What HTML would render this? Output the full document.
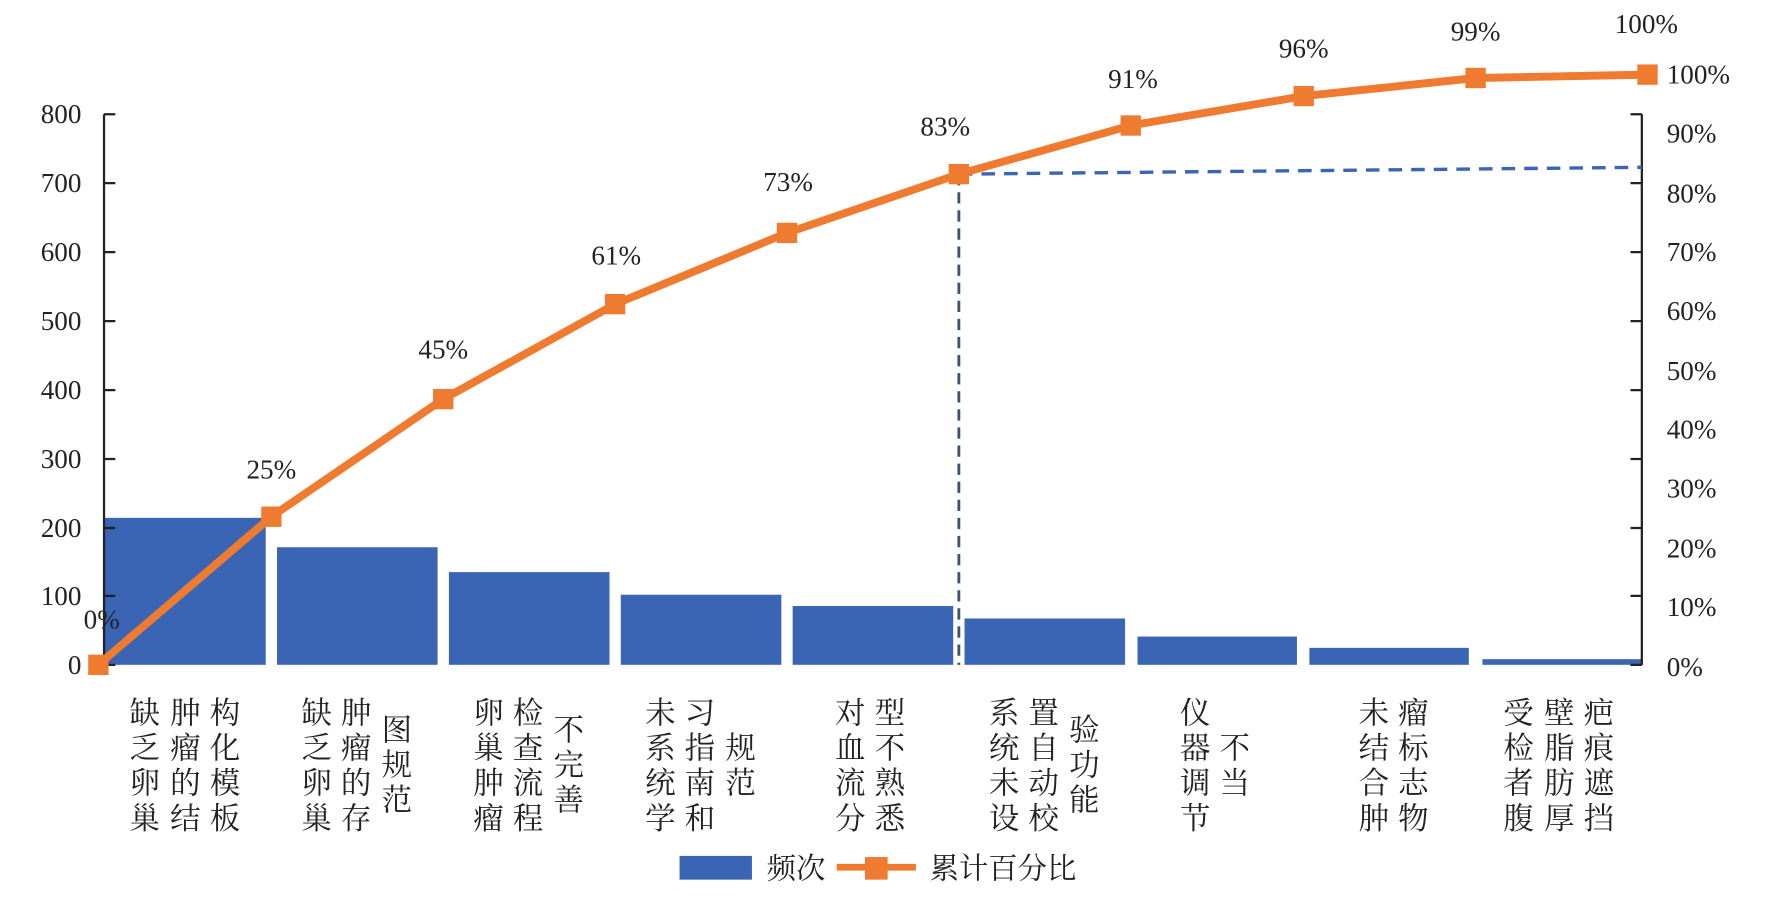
<!DOCTYPE html>
<html><head><meta charset="utf-8"><style>
html,body{margin:0;padding:0;background:#fff;}
svg{display:block;}
text{font-family:"Liberation Serif","Noto Serif CJK SC","Noto Sans CJK SC",serif;fill:#222;}
.t{font-size:24px;}
.c{font-size:27px;text-anchor:middle;}
</style></head><body>
<svg width="1773" height="900" viewBox="0 0 1568 796" preserveAspectRatio="none" xmlns="http://www.w3.org/2000/svg">
<rect width="1568" height="796" fill="#fff"/>
<g fill="#3a65b5">
<rect x="92" y="458" width="143" height="130"/>
<rect x="245" y="484" width="142" height="104"/>
<rect x="397" y="506" width="142" height="82"/>
<rect x="549" y="526" width="142" height="62"/>
<rect x="701" y="536" width="142" height="52"/>
<rect x="853" y="547" width="142" height="41"/>
<rect x="1006" y="563" width="141" height="25"/>
<rect x="1158" y="573" width="141" height="15"/>
<rect x="1311" y="583" width="141" height="5"/>
</g>
<g stroke="#222" stroke-width="2" fill="none">
<path d="M92 101V588"/>
<path d="M92 101h10M92 162h10M92 223h10M92 284h10M92 345h10M92 406h10M92 467h10M92 527h10M92 588h10"/>
<path d="M1452 101V588"/>
<path d="M1452 101h-10M1452 162h-10M1452 223h-10M1452 284h-10M1452 345h-10M1452 406h-10M1452 467h-10M1452 527h-10M1452 588h-10"/>
</g>
<path d="M848 154V588" stroke="#3c5270" stroke-width="2.5" stroke-dasharray="10,6" fill="none"/>
<path d="M848 154L1452 148" stroke="#3a65b5" stroke-width="3" stroke-dasharray="12,8" fill="none"/>
<polyline points="87,588 240,457 392,353 544,269 696,206 848,154 1000,111 1153,85 1305,69 1457,66" fill="none" stroke="#ef7b30" stroke-width="7"/>
<g fill="#ef7b30">
<rect x="78" y="579" width="18" height="18"/><rect x="231" y="448" width="18" height="18"/><rect x="383" y="344" width="18" height="18"/><rect x="535" y="260" width="18" height="18"/><rect x="687" y="197" width="18" height="18"/><rect x="839" y="145" width="18" height="18"/><rect x="991" y="102" width="18" height="18"/><rect x="1144" y="76" width="18" height="18"/><rect x="1296" y="60" width="18" height="18"/><rect x="1448" y="57" width="18" height="18"/>
</g>
<g class="t" text-anchor="middle">
<text x="90" y="556">0%</text><text x="240" y="423">25%</text><text x="392" y="317">45%</text><text x="545" y="234">61%</text><text x="697" y="169">73%</text><text x="836" y="120">83%</text><text x="1002" y="78">91%</text><text x="1153" y="51">96%</text><text x="1305" y="36">99%</text><text x="1456" y="29">100%</text>
</g>
<g class="t" text-anchor="end">
<text x="72" y="109">800</text><text x="72" y="170">700</text><text x="72" y="231">600</text><text x="72" y="292">500</text><text x="72" y="353">400</text><text x="72" y="414">300</text><text x="72" y="475">200</text><text x="72" y="535">100</text><text x="72" y="596">0</text>
</g>
<g class="t">
<text x="1474" y="74">100%</text><text x="1474" y="126">90%</text><text x="1474" y="179">80%</text><text x="1474" y="231">70%</text><text x="1474" y="283">60%</text><text x="1474" y="336">50%</text><text x="1474" y="388">40%</text><text x="1474" y="440">30%</text><text x="1474" y="493">20%</text><text x="1474" y="545">10%</text><text x="1474" y="598">0%</text>
</g>
<g class="c">
<text x="128" y="640">缺</text><text x="128" y="671">乏</text><text x="128" y="702">卵</text><text x="128" y="733">巢</text>
<text x="164" y="640">肿</text><text x="164" y="671">瘤</text><text x="164" y="702">的</text><text x="164" y="733">结</text>
<text x="199" y="640">构</text><text x="199" y="671">化</text><text x="199" y="702">模</text><text x="199" y="733">板</text>
<text x="280" y="640">缺</text><text x="280" y="671">乏</text><text x="280" y="702">卵</text><text x="280" y="733">巢</text>
<text x="315" y="640">肿</text><text x="315" y="671">瘤</text><text x="315" y="702">的</text><text x="315" y="733">存</text>
<text x="351" y="655">图</text><text x="351" y="686">规</text><text x="351" y="717">范</text>
<text x="432" y="640">卵</text><text x="432" y="671">巢</text><text x="432" y="702">肿</text><text x="432" y="733">瘤</text>
<text x="467" y="640">检</text><text x="467" y="671">查</text><text x="467" y="702">流</text><text x="467" y="733">程</text>
<text x="503" y="655">不</text><text x="503" y="686">完</text><text x="503" y="717">善</text>
<text x="584" y="640">未</text><text x="584" y="671">系</text><text x="584" y="702">统</text><text x="584" y="733">学</text>
<text x="619" y="640">习</text><text x="619" y="671">指</text><text x="619" y="702">南</text><text x="619" y="733">和</text>
<text x="655" y="671">规</text><text x="655" y="702">范</text>
<text x="752" y="640">对</text><text x="752" y="671">血</text><text x="752" y="702">流</text><text x="752" y="733">分</text>
<text x="787" y="640">型</text><text x="787" y="671">不</text><text x="787" y="702">熟</text><text x="787" y="733">悉</text>
<text x="888" y="640">系</text><text x="888" y="671">统</text><text x="888" y="702">未</text><text x="888" y="733">设</text>
<text x="923" y="640">置</text><text x="923" y="671">自</text><text x="923" y="702">动</text><text x="923" y="733">校</text>
<text x="959" y="655">验</text><text x="959" y="686">功</text><text x="959" y="717">能</text>
<text x="1057" y="640">仪</text><text x="1057" y="671">器</text><text x="1057" y="702">调</text><text x="1057" y="733">节</text>
<text x="1092" y="671">不</text><text x="1092" y="702">当</text>
<text x="1215" y="640">未</text><text x="1215" y="671">结</text><text x="1215" y="702">合</text><text x="1215" y="733">肿</text>
<text x="1250" y="640">瘤</text><text x="1250" y="671">标</text><text x="1250" y="702">志</text><text x="1250" y="733">物</text>
<text x="1343" y="640">受</text><text x="1343" y="671">检</text><text x="1343" y="702">者</text><text x="1343" y="733">腹</text>
<text x="1379" y="640">壁</text><text x="1379" y="671">脂</text><text x="1379" y="702">肪</text><text x="1379" y="733">厚</text>
<text x="1414" y="640">疤</text><text x="1414" y="671">痕</text><text x="1414" y="702">遮</text><text x="1414" y="733">挡</text>
</g>
<rect x="601" y="757" width="64" height="21" fill="#3a65b5"/>
<text x="678" y="777" style="font-size:26px">频次</text>
<path d="M740 767H810" stroke="#ef7b30" stroke-width="6"/>
<rect x="765" y="758" width="20" height="20" fill="#ef7b30"/>
<text x="822" y="777" style="font-size:26px">累计百分比</text>
</svg>
</body></html>
